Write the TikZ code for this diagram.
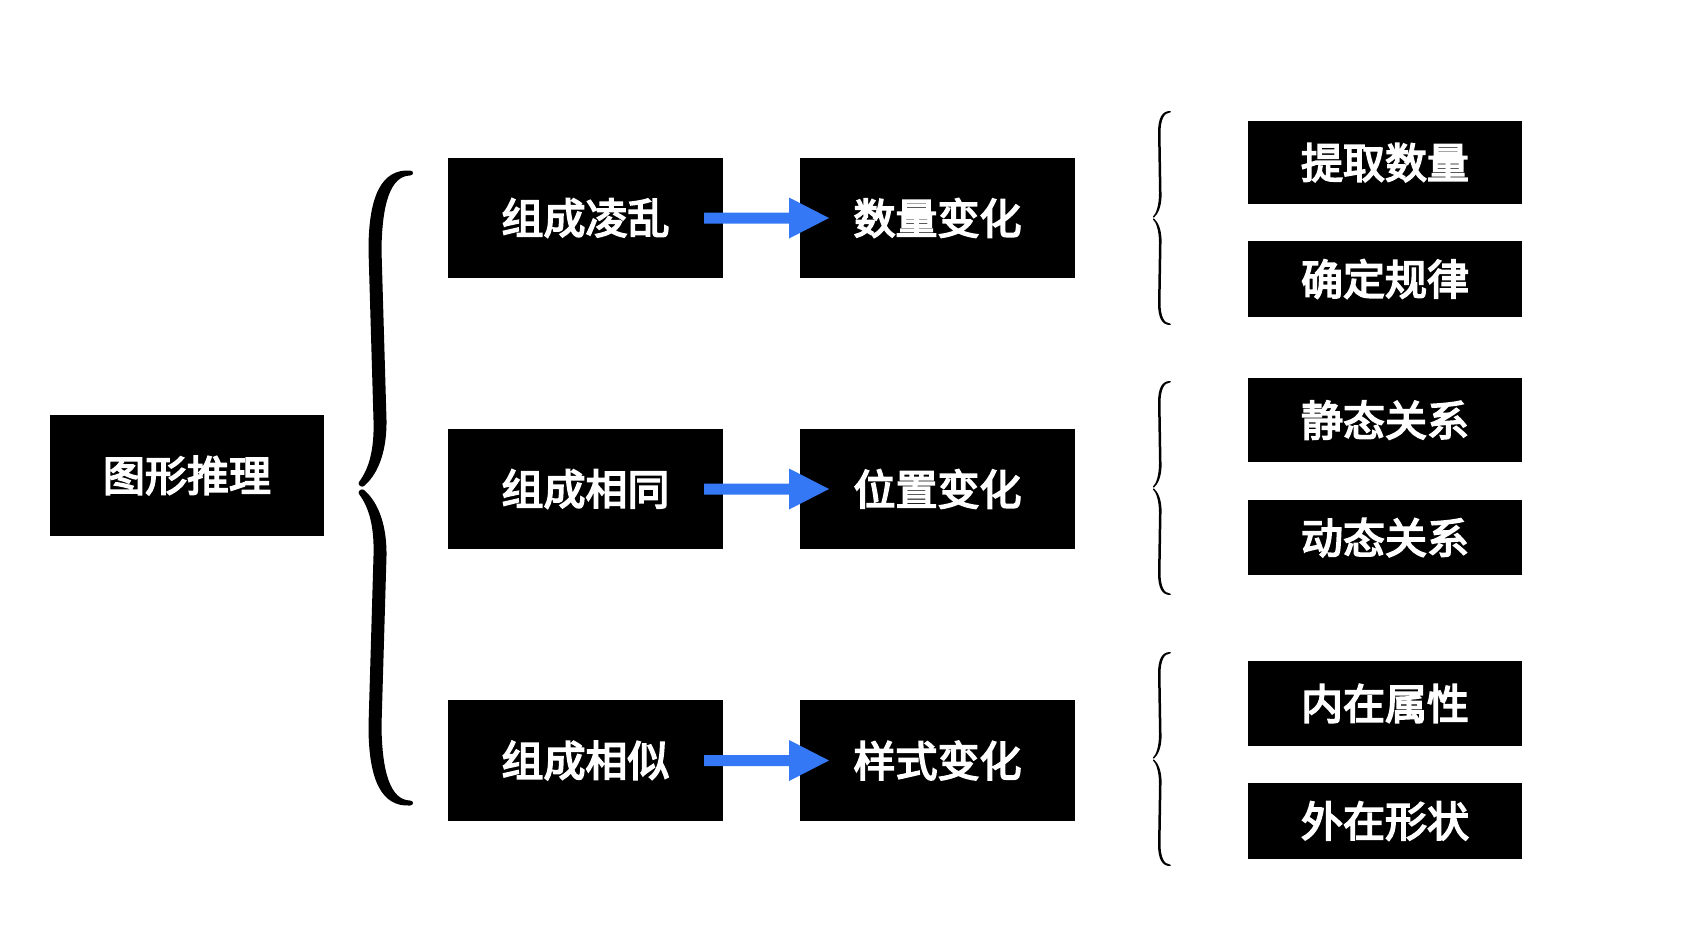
\documentclass[tikz,border=0pt]{standalone}
\usepackage{fontspec}
\newfontfamily\cjk{Noto Sans CJK SC}[FakeBold=4]
\definecolor{arrowblue}{HTML}{3478F6}
\newcommand{\BigHalf}{%
  (49,-317.5) .. controls (21,-319) and (7.5,-293) .. (7.5,-238)
  -- (12.5,-68) .. controls (13.5,-36) and (7,-18) .. (-2,-6)
  .. controls (-4,-3) and (1,0) .. (3,-2)
  .. controls (15,-12) and (26,-33) .. (25.5,-68)
  -- (20.5,-238) .. controls (21,-283) and (29,-312) .. (49,-312.5)
  .. controls (53,-312.5) and (53,-317.5) .. (49,-317.5) -- cycle}
\newcommand{\SmallHalf}{%
  (17,-107) .. controls (9,-107) and (5,-100) .. (5,-85)
  -- (6,-25) .. controls (6,-12) and (3,-4) .. (0,-1.5)
  .. controls (-0.5,-1) and (0.5,0) .. (1,-0.5)
  .. controls (5,-4) and (9,-12) .. (8.5,-25)
  -- (7.5,-85) .. controls (7.5,-98) and (11,-105.5) .. (17,-105.5)
  .. controls (18,-105.5) and (18,-107) .. (17,-107) -- cycle}
\begin{document}
\begin{tikzpicture}[x=1pt,y=-1pt,
  box/.style={fill=black, text=white, inner sep=0pt, outer sep=0pt,
    font=\cjk\fontsize{42}{42}\selectfont},
  wide/.style={box, minimum width=275pt, minimum height=120pt},
  side/.style={box, minimum width=274pt},
  flow/.style={fill=arrowblue},
  bracefill/.style={fill=black}]
\fill[white] (0,0) rectangle (1688,946);
\useasboundingbox (0,0) rectangle (1688,946);

\node[box, minimum width=274pt, minimum height=121pt] (root) at (187,475.5) {图形推理};

\node[wide] (l1) at (585.5,218) {组成凌乱};
\node[wide] (l2) at (585.5,489) {组成相同};
\node[wide, minimum height=121pt] (l3) at (585.5,760.5) {组成相似};

\node[wide] (m1) at (937.5,218) {数量变化};
\node[wide] (m2) at (937.5,489) {位置变化};
\node[wide, minimum height=121pt] (m3) at (937.5,760.5) {样式变化};

\node[side, minimum height=83pt] (r1) at (1385,162.5) {提取数量};
\node[side, minimum height=76pt] (r2) at (1385,279) {确定规律};
\node[side, minimum height=84pt] (r3) at (1385,420) {静态关系};
\node[side, minimum height=75pt] (r4) at (1385,537.5) {动态关系};
\node[side, minimum height=85pt] (r5) at (1385,703.5) {内在属性};
\node[side, minimum height=76pt] (r6) at (1385,821) {外在形状};

\foreach \a/\b in {l1/m1, l2/m2, l3/m3}{
  \fill[flow] ([xshift=-19pt,yshift=-5.5pt]\a.east) -- ([xshift=-11pt,yshift=-5.5pt]\b.west)
    -- ([xshift=-11pt,yshift=-20.5pt]\b.west) -- ([xshift=29pt]\b.west)
    -- ([xshift=-11pt,yshift=20.5pt]\b.west) -- ([xshift=-11pt,yshift=5.5pt]\b.west)
    -- ([xshift=-19pt,yshift=5.5pt]\a.east) -- cycle;
}

% big brace
\begin{scope}[shift={(361,488)}]
  \fill[bracefill] \BigHalf;
\end{scope}
\begin{scope}[shift={(361,488)}, yscale=-1]
  \fill[bracefill] \BigHalf;
\end{scope}

% small braces
\foreach \ty in {218,488,759}{
  \begin{scope}[shift={(1153,\ty)}]
    \fill[bracefill] \SmallHalf;
  \end{scope}
  \begin{scope}[shift={(1153,\ty)}, yscale=-1]
    \fill[bracefill] \SmallHalf;
  \end{scope}
}
\end{tikzpicture}
\end{document}
